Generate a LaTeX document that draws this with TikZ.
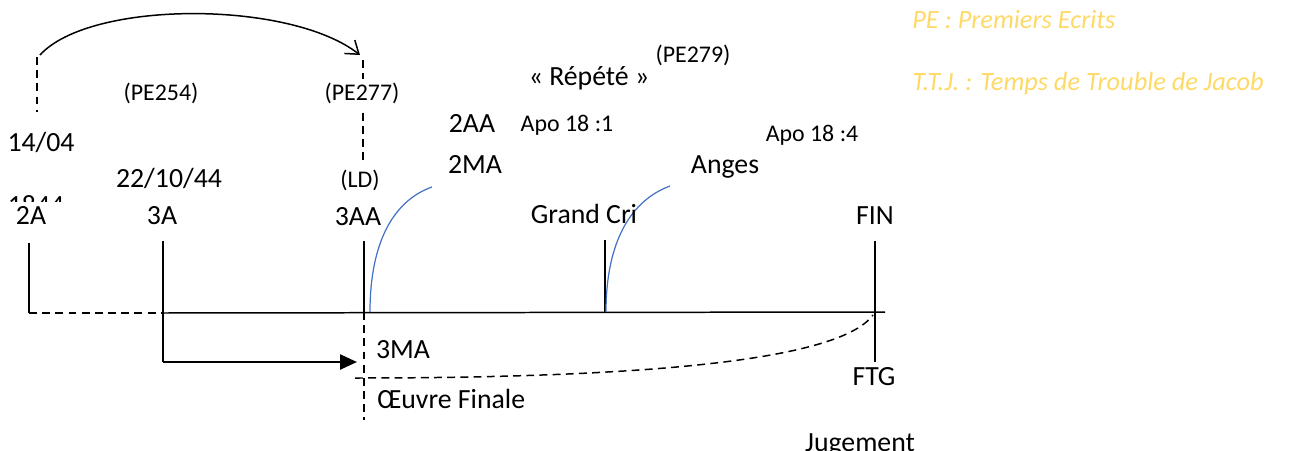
\documentclass[tikz,border=0pt]{standalone}
\usepackage{fontspec}
\setmainfont{Carlito}
\usepackage{xcolor}
\usepackage{tikz}
\usetikzlibrary{arrows.meta}
\definecolor{legendgold}{RGB}{255,217,102}
\definecolor{arcblue}{RGB}{68,114,196}
\tikzset{
  lbl/.style={font=\fontsize{15.8}{18}\selectfont, inner sep=0pt, anchor=base},
  sml/.style={lbl, font=\fontsize{13.6}{16}\selectfont},
  leg/.style={font=\fontsize{15}{18}\selectfont\itshape, text=legendgold, inner sep=0pt, anchor=base west},
  tick/.style={line width=0.85pt},
  dsh/.style={line width=0.85pt, dash pattern=on 4.5pt off 3pt},
  blueline/.style={arcblue, line width=0.7pt}
}

\begin{document}
\begin{tikzpicture}[x=0.02cm, y=-0.02cm]
		\useasboundingbox (0,0) rectangle (1289,450);

		\coordinate (arcL) at (40,55);
		\coordinate (arcR) at (360,55);
		\coordinate (dA1) at (37,57);
		\coordinate (dA2) at (37,112);
		\coordinate (dB1) at (363,60);
		\coordinate (dB2) at (363,163);
		\coordinate (t2A) at (29,243);
		\coordinate (b2A) at (29,313);
		\coordinate (t3A) at (163,241);
		\coordinate (b3A) at (163,313);
		\coordinate (a3A) at (163,362);
		\coordinate (arrEnd) at (357,362);
		\coordinate (t3AA) at (364,241);
		\coordinate (b3AA) at (364,312);
		\coordinate (d3AA) at (364,420);
		\coordinate (tGC) at (605,240);
		\coordinate (bGC) at (605,312);
		\coordinate (tFIN) at (875,241);
		\coordinate (bFIN) at (875,362);
		\coordinate (axR) at (885,312);
		\coordinate (oeL) at (355,378);
		\coordinate (oeR) at (873,315);
		\coordinate (bl1) at (370,312);
		\coordinate (bl1e) at (432,187);
		\coordinate (bl2) at (606,312);
		\coordinate (bl2e) at (670,186);

		\draw[tick, -{Straight Barb[length=0.24cm, width=0.34cm]}] (arcL) .. controls (90,0) and (290,0) .. (arcR);
		\draw[dsh] (dA1) -- (dA2);
		\draw[dsh] (dB1) -- (dB2);

		\draw[tick] (t2A) -- (b2A);
		\draw[dsh] (b2A) -- (b3A);
		\draw[tick] (b3A) -- (axR);
		\draw[tick] (t3A) -- (a3A);
		\draw[line width=1.4pt, -{Triangle[length=0.34cm, width=0.3cm]}] (a3A) -- (arrEnd);
		\draw[tick] (t3AA) -- (b3AA);
		\draw[dsh] (b3AA) -- (d3AA);
		\draw[tick] (tGC) -- (bGC);
		\draw[tick] (tFIN) -- (bFIN);
		\draw[dsh] (oeL) .. controls (650,378) and (840,360) .. (oeR);

		\draw[blueline] (bl1) .. controls (370,240) and (395,200) .. (bl1e);
		\draw[blueline] (bl2) .. controls (606,240) and (632,200) .. (bl2e);

		\node[lbl] (d1404) at (41,151) {14/04};
		\begin{scope}
			\clip (0,190) rectangle (120,201);
			\node[lbl] (y1844) at (36,214) {1844};
		\end{scope}
		\node[lbl] (n2A) at (31,224) {2A};
		\node[sml] (pe254) at (161,100) {(PE254)};
		\node[lbl] (d221044) at (169,187) {22/10/44};
		\node[lbl] (n3A) at (162,224) {3A};
		\node[sml, fill=white, inner sep=2pt] (pe277) at (362,100) {(PE277)};
		\node[sml] (ld) at (360,187) {(LD)};
		\node[lbl] (n3AA) at (358,225) {3AA};
		\node[lbl] (repete) at (589,85) {« Répété »};
		\node[sml] (pe279) at (693,62) {(PE279)};
		\node[lbl] (n2AA) at (472,132) {2AA};
		\node[sml] (apo1) at (567,131) {Apo 18 :1};
		\node[lbl] (n2MA) at (475,173) {2MA};
		\node[sml] (apo4) at (812,141) {Apo 18 :4};
		\node[lbl] (anges) at (725,173) {Anges};
		\node[lbl] (gcri) at (584,223) {Grand Cri};
		\node[lbl] (fin) at (875,224) {FIN};
		\node[lbl] (n3MA) at (403,358) {3MA};
		\node[lbl, anchor=base west] (oeuvre) at (377,408) {Œuvre Finale};
		\node[lbl] (ftg) at (874,385) {FTG};
		\node[lbl] (jug) at (860,451) {Jugement};

		\node[leg] (legPE) at (912,28) {PE : Premiers Ecrits};
		\node[leg] (legTTJ) at (912,90) {T.T.J. : Temps de Trouble de Jacob};
	\end{tikzpicture}
\end{document}
